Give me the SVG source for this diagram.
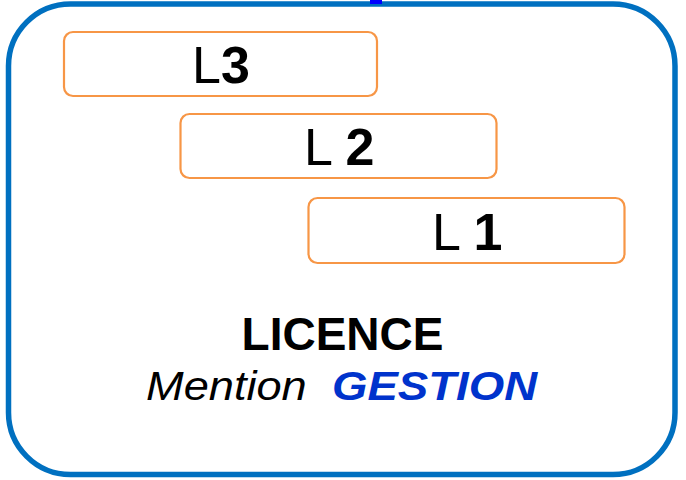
<svg xmlns="http://www.w3.org/2000/svg" width="686" height="480" viewBox="0 0 686 480">
<style>
.frame{fill:#ffffff;stroke:#0070c0;stroke-width:5.5}
.box{fill:#ffffff;stroke:#f79646;stroke-width:2.2}
.lbl{font-family:"Liberation Sans",Arial,sans-serif;font-size:52px;fill:#000000}
.b{font-weight:bold}
</style>
<rect width="686" height="480" fill="#ffffff"/>
<g id="frame">
<rect class="frame" x="8.5" y="4" width="666.5" height="470.5" rx="62" ry="62"/>
<rect x="370" y="0" width="12" height="4" fill="#0000ff"/>
</g>
<g id="L3">
<rect class="box" x="64" y="32" width="313" height="64" rx="9"/>
<text class="lbl" x="192" y="83">L<tspan class="b">3</tspan></text>
</g>
<g id="L2">
<rect class="box" x="180.5" y="114" width="316" height="64" rx="9"/>
<text class="lbl" x="304" y="165">L <tspan class="b">2</tspan></text>
</g>
<g id="L1">
<rect class="box" x="308.5" y="198" width="316" height="65" rx="9"/>
<text class="lbl" x="432" y="250">L <tspan class="b">1</tspan></text>
</g>
<g id="title">
<text x="342.5" y="350" text-anchor="middle" font-family="'Liberation Sans',Arial,sans-serif" font-size="46" font-weight="bold" fill="#000000">LICENCE</text>
<text transform="translate(146,400) scale(1.13,1)" font-family="'Liberation Sans',Arial,sans-serif" font-size="40" font-style="italic" fill="#000000">Mention</text>
<text transform="translate(332,400) scale(1.14,1)" font-family="'Liberation Sans',Arial,sans-serif" font-size="40" font-style="italic" font-weight="bold" fill="#0033cc">GESTION</text>
</g>
<g id="connectors"></g>
</svg>
